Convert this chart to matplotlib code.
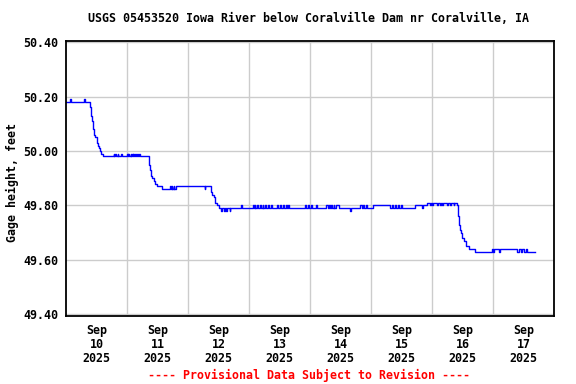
import numpy as np
import pandas as pd
import matplotlib
matplotlib.use('Agg')
import matplotlib.pyplot as plt
import matplotlib.dates as mdates

# Gage height readings, hours after 2025-09-10 00:00 (value holds until next reading)
hours = [
    0.0, 1.6, 1.9, 7.2, 7.6,
    9.5, 9.8, 10.3, 10.8, 11.2, 11.6, 12.0, 12.4, 12.9, 13.3, 13.9, 14.6,
    18.8, 19.05, 19.25, 19.5, 20.4, 20.65, 21.7, 21.95,
    24.1, 24.3, 24.5, 24.75, 25.5, 25.75, 26.0, 26.2, 26.4, 26.9, 27.3, 27.55, 28.1, 28.35, 28.9, 29.15,
    32.5, 32.8, 33.2, 33.5, 34.0, 34.5, 35.2, 35.9, 37.8,
    41.1, 41.3, 41.7, 41.9, 42.3, 42.5, 43.1, 54.5, 54.8,
    57.2, 57.6, 58.1, 58.5, 59.5, 60.1, 61.0, 61.3, 62.1, 62.4, 63.1, 63.4, 64.4, 64.7,
    68.9, 69.1,
    73.5, 73.8, 74.2, 74.5,
    75.2, 75.6, 76.3, 76.7, 77.4, 77.7, 78.4, 78.8, 79.5, 79.8, 80.6, 81.1,
    83.1, 83.5, 84.2, 84.5, 85.3, 85.6, 86.5, 86.8, 87.2, 87.6,
    94.2, 94.6, 95.2, 95.5, 96.2, 96.9, 98.5, 98.7,
    102.4, 103.0, 103.5, 103.8, 104.4, 104.7, 105.3, 105.6, 106.3, 107.4,
    111.9, 112.2,
    115.7, 116.3, 116.8, 117.3, 118.0, 118.4,
    120.6, 127.6, 128.3, 128.7, 129.4, 129.8, 130.7, 131.0, 131.9, 132.2, 132.8,
    137.5, 140.1, 140.4,
    142.1, 143.4, 143.7, 144.0, 144.3, 146.0, 146.3, 147.3, 147.6, 148.0, 148.3,
    149.9, 150.2, 151.2, 151.5, 152.5, 152.8,
    154.0, 154.2, 154.5, 154.9, 155.3, 155.9, 156.5, 157.3, 158.6, 161.1,
    167.6, 167.9, 168.3, 170.5, 170.8,
    177.5, 178.2, 179.0, 179.6, 180.3, 180.8, 181.4, 184.7,
]
gage = [
    50.18, 50.19, 50.18, 50.19, 50.18,
    50.16, 50.13, 50.11, 50.08, 50.06, 50.05, 50.03, 50.02, 50.01, 50.00, 49.99, 49.98,
    49.99, 49.98, 49.99, 49.98, 49.99, 49.98, 49.99, 49.98,
    49.99, 49.98, 49.99, 49.98, 49.99, 49.98, 49.99, 49.98, 49.99, 49.98, 49.99, 49.98, 49.99, 49.98, 49.99, 49.98,
    49.97, 49.95, 49.93, 49.91, 49.90, 49.89, 49.88, 49.87, 49.86,
    49.87, 49.86, 49.87, 49.86, 49.87, 49.86, 49.87, 49.86, 49.87,
    49.85, 49.84, 49.83, 49.81, 49.80, 49.79, 49.78, 49.79, 49.78, 49.79, 49.78, 49.79, 49.78, 49.79,
    49.80, 49.79,
    49.80, 49.79, 49.80, 49.79,
    49.80, 49.79, 49.80, 49.79, 49.80, 49.79, 49.80, 49.79, 49.80, 49.79, 49.80, 49.79,
    49.80, 49.79, 49.80, 49.79, 49.80, 49.79, 49.80, 49.79, 49.80, 49.79,
    49.80, 49.79, 49.80, 49.79, 49.80, 49.79, 49.80, 49.79,
    49.80, 49.79, 49.80, 49.79, 49.80, 49.79, 49.80, 49.79, 49.80, 49.79,
    49.78, 49.79,
    49.80, 49.79, 49.80, 49.79, 49.80, 49.79,
    49.80, 49.79, 49.80, 49.79, 49.80, 49.79, 49.80, 49.79, 49.80, 49.79, 49.79,
    49.80, 49.79, 49.80,
    49.81, 49.80, 49.81, 49.80, 49.81, 49.80, 49.81, 49.80, 49.81, 49.80, 49.81,
    49.80, 49.81, 49.80, 49.81, 49.80, 49.81,
    49.80, 49.76, 49.73, 49.71, 49.70, 49.68, 49.67, 49.65, 49.64, 49.63,
    49.64, 49.63, 49.64, 49.63, 49.64,
    49.63, 49.64, 49.63, 49.64, 49.63, 49.64, 49.63, 49.63,
]

start = pd.Timestamp('2025-09-10 00:00')
days = pd.date_range('2025-09-10', '2025-09-18', freq='D')
y_ticks = [49.40, 49.60, 49.80, 50.00, 50.20, 50.40]

times = start + pd.to_timedelta(hours, unit='h')

font = 'DejaVu Sans Mono'
fs = 8.4

fig = plt.figure(figsize=(5.76, 3.84), dpi=100)
ax = fig.add_axes([66/576, 68/384, 488/576, 275/384])

ax.plot(times, gage, color='#0000ff', lw=1, drawstyle='steps-post')

ax.set_xlim(days[0], days[-1])
ax.set_ylim(49.394, 50.404)

ax.set_yticks(y_ticks)
ax.set_yticklabels(['%.2f' % v for v in y_ticks], family=font, fontweight='bold', fontsize=fs)

noons = days[:-1] + pd.Timedelta(hours=12)
ax.set_xticks(noons)
ax.set_xticklabels([d.strftime('%b\n%d\n%Y') for d in days[:-1]],
                   family=font, fontweight='bold', fontsize=fs, linespacing=1.1)
ax.set_xticks(days[1:-1], minor=True)

ax.tick_params(which='both', length=0)
ax.tick_params(axis='x', pad=5.5)
ax.tick_params(axis='y', pad=5.5)

ax.grid(True, which='minor', axis='x', color='#cccccc', lw=1)
ax.grid(True, which='major', axis='y', color='#cccccc', lw=1)
ax.grid(False, which='major', axis='x')
ax.set_axisbelow(True)

for s in ax.spines.values():
    s.set_linewidth(1.3)
    s.set_color('black')

fig.text(309/576, 1 - 19/384, 'USGS 05453520 Iowa River below Coralville Dam nr Coralville, IA',
         ha='center', va='center', family=font, fontweight='bold', fontsize=fs)
fig.text(12/576, 1 - 183/384, 'Gage height, feet', rotation=90,
         ha='center', va='center', family=font, fontweight='bold', fontsize=fs)
fig.text(309/576, 1 - 375/384, '---- Provisional Data Subject to Revision ----',
         ha='center', va='center', family=font, fontweight='bold', fontsize=fs, color='red')

fig.savefig('out.png', dpi=100)
